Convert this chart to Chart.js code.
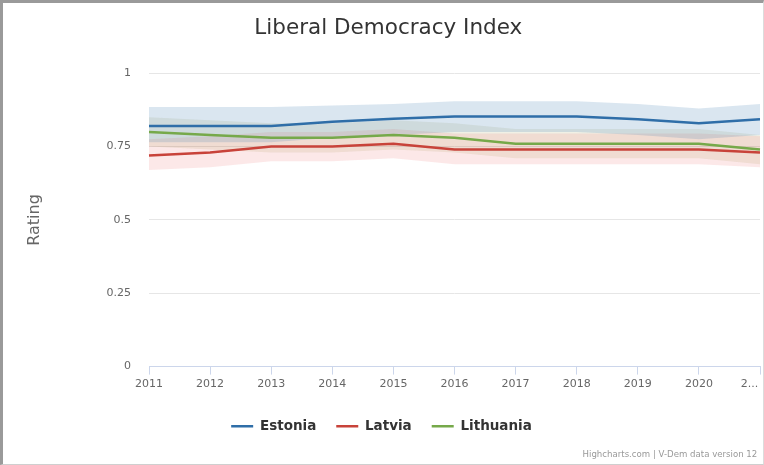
<!DOCTYPE html>
<html>
<head>
<meta charset="utf-8">
<script src="https://cdn.jsdelivr.net/npm/chart.js@4"></script>
<style>
  html, body { margin: 0; padding: 0; background: #fff; }
  #frame {
    width: 764px; height: 465px; box-sizing: border-box;
    border-left: 3px solid #9a9a9a; border-top: 3px solid #9a9a9a;
    border-right: 1px solid #dcdcdc; border-bottom: 1px solid #cfcfcf;
  }
  #chart { display: block; }
</style>
</head>
<body>
<div id="frame"><canvas id="chart" width="760" height="461"></canvas></div>
<script>
const years = ["2011", "2012", "2013", "2014", "2015", "2016", "2017", "2018", "2019", "2020", "2021"];

const estonia = [0.82, 0.82, 0.82, 0.835, 0.845, 0.853, 0.853, 0.853, 0.843, 0.83, 0.843];
const estoniaHigh = [0.885, 0.885, 0.885, 0.89, 0.895, 0.905, 0.905, 0.905, 0.895, 0.88, 0.895];
const estoniaLow = [0.765, 0.765, 0.765, 0.78, 0.79, 0.80, 0.80, 0.80, 0.79, 0.775, 0.79];

const latvia = [0.72, 0.73, 0.75, 0.75, 0.76, 0.74, 0.74, 0.74, 0.74, 0.74, 0.73];
const latviaHigh = [0.775, 0.785, 0.80, 0.80, 0.81, 0.795, 0.795, 0.795, 0.795, 0.795, 0.785];
const latviaLow = [0.67, 0.68, 0.70, 0.70, 0.71, 0.69, 0.69, 0.69, 0.69, 0.69, 0.68];

const lithuania = [0.80, 0.79, 0.78, 0.78, 0.79, 0.78, 0.76, 0.76, 0.76, 0.76, 0.74];
const lithuaniaHigh = [0.85, 0.84, 0.83, 0.83, 0.84, 0.83, 0.81, 0.81, 0.81, 0.81, 0.79];
const lithuaniaLow = [0.75, 0.74, 0.73, 0.73, 0.74, 0.73, 0.71, 0.71, 0.71, 0.71, 0.69];

const yTicks = [0, 0.25, 0.5, 0.75, 1];

const FONT = "'DejaVu Sans', sans-serif";

function band(data, fill, color) {
  return {
    label: "", data: data, fill: fill, backgroundColor: color,
    borderWidth: 0, pointRadius: 0, tension: 0, order: 1
  };
}
function line(label, data, color) {
  return {
    label: label, data: data, borderColor: color, backgroundColor: color,
    borderWidth: 2.5, pointRadius: 0, fill: false, tension: 0, order: 0
  };
}

const ctx = document.getElementById("chart").getContext("2d");
new Chart(ctx, {
  type: "line",
  data: {
    labels: years,
    datasets: [
      band(estoniaHigh, false, "rgba(0,0,0,0)"),
      band(estoniaLow, "-1", "rgba(70,130,180,0.2)"),
      band(latviaHigh, false, "rgba(0,0,0,0)"),
      band(latviaLow, "-1", "rgba(235,90,90,0.14)"),
      band(lithuaniaHigh, false, "rgba(0,0,0,0)"),
      band(lithuaniaLow, "-1", "rgba(150,150,70,0.14)"),
      line("Estonia", estonia, "#2f6ea8"),
      line("Latvia", latvia, "#c8433a"),
      line("Lithuania", lithuania, "#76a94a"),
    ],
  },
  options: {
    responsive: false,
    animation: false,
    layout: { padding: { right: 3 } },
    scales: {
      x: {
        offset: false,
        grid: { drawOnChartArea: false, drawTicks: true, tickLength: 8, color: "#ccd6eb" },
        border: { color: "#ccd6eb", width: 1 },
        ticks: {
          padding: 3, color: "#666", font: { family: FONT, size: 11 },
          maxRotation: 0, autoSkip: false,
          callback: function (val, i) {
            return i === years.length - 1 ? "2...      " : years[i];
          },
        },
        afterFit: function (scale) {
          scale.paddingRight = 0;
          scale.height = 33;
        },
      },
      y: {
        min: 0, max: 1,
        afterBuildTicks: function (scale) {
          scale.ticks = yTicks.map((v) => ({ value: v }));
        },
        grid: { color: "#e6e6e6", drawTicks: false },
        border: { display: false },
        ticks: {
          padding: 18, color: "#666", font: { family: FONT, size: 11 },
          callback: (v) => String(v),
        },
        title: {
          display: true, text: "Rating", color: "#666",
          font: { family: FONT, size: 16 }, padding: { top: 22 },
        },
        afterFit: function (scale) {
          scale.width = 146;
        },
      },
    },
    plugins: {
      title: {
        display: true, text: "  Liberal Democracy Index", color: "#333",
        font: { family: FONT, size: 21.5, weight: "normal" },
        padding: { top: 13, bottom: 31.5 },
      },
      subtitle: {
        display: true, text: "Highcharts.com | V-Dem data version 12 ",
        position: "bottom", align: "end", color: "#999",
        font: { family: FONT, size: 8.6 },
        padding: { top: 6.8, bottom: 3.8 },
      },
      legend: {
        position: "bottom",
        labels: {
          filter: (item) => item.text !== "",
          usePointStyle: true, pointStyle: "line", pointStyleWidth: 22,
          padding: 20, color: "#333",
          font: { family: FONT, size: 13.5, weight: "bold" },
        },
      },
      tooltip: { enabled: false },
    },
  },
});
</script>
</body>
</html>
